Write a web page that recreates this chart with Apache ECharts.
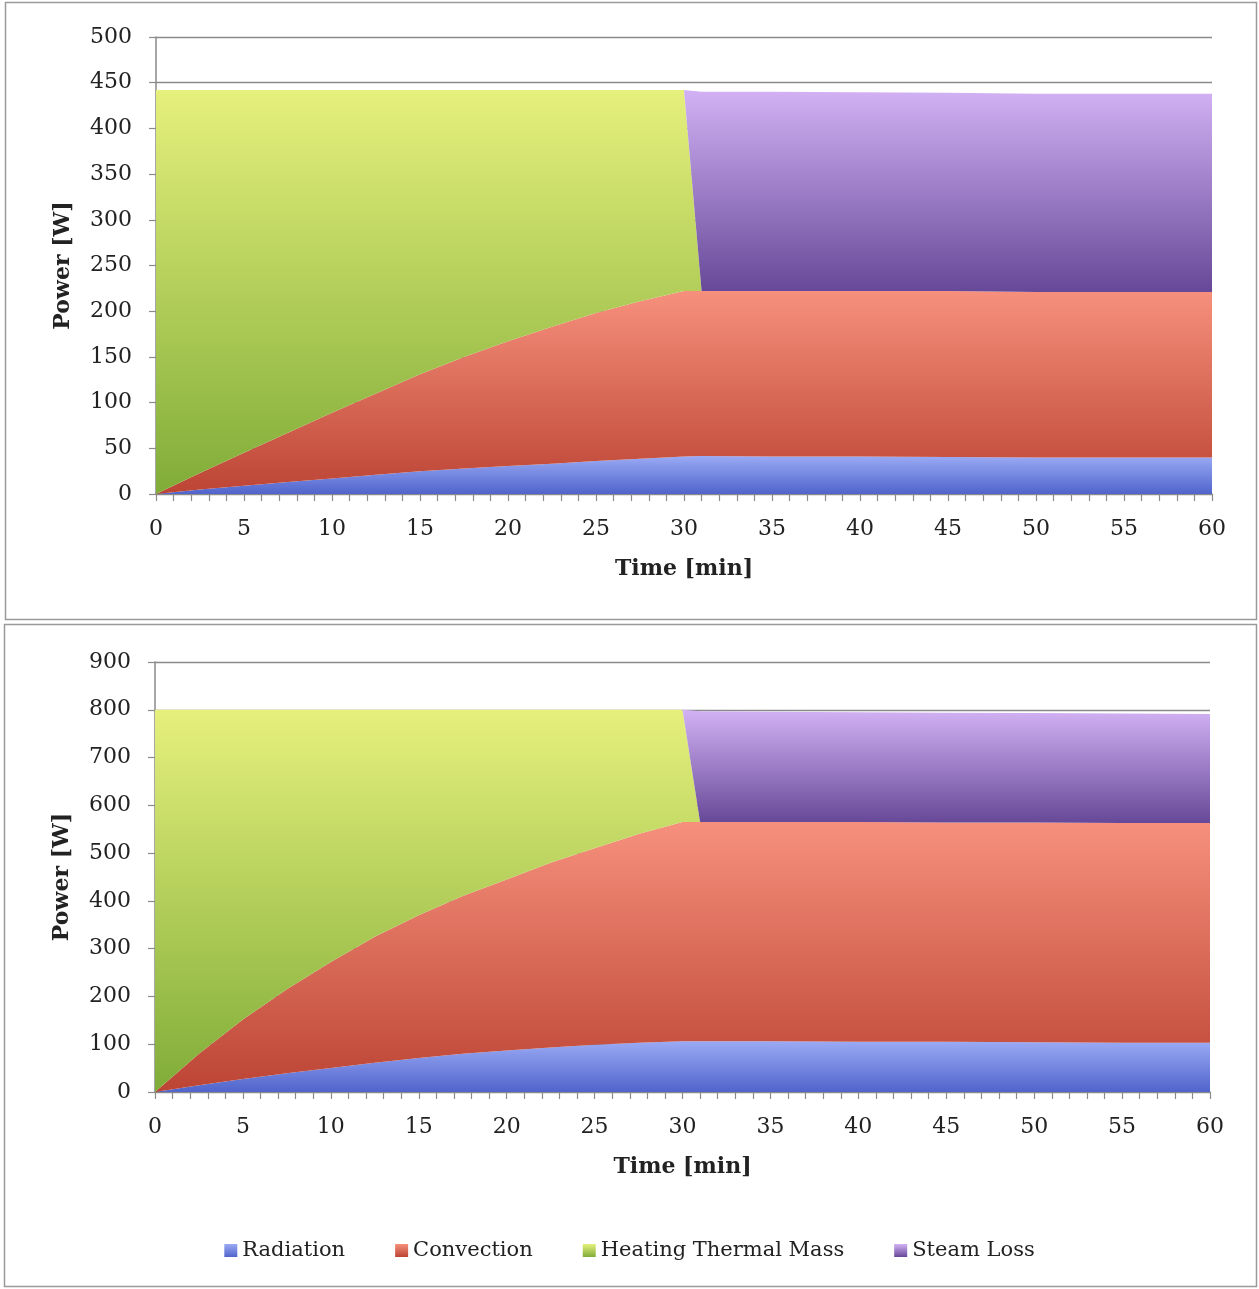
<!DOCTYPE html>
<html><head><meta charset="utf-8">
<script src="https://cdn.jsdelivr.net/npm/echarts@6/dist/echarts.min.js"></script>
<style>html,body{margin:0;padding:0;background:#fff}#c{width:1259px;height:1289px}</style>
</head><body><div id="c"></div>
<script>
// ---- data ----
const seriesNames = ['Radiation', 'Convection', 'Heating Thermal Mass', 'Steam Loss'];
const timeMin = [0, 2.5, 5, 7.5, 10, 12.5, 15, 17.5, 20, 22.5, 25, 27.5, 30, 31, 35, 40, 45, 50, 55, 60];
const xTickLabels = [0, 5, 10, 15, 20, 25, 30, 35, 40, 45, 50, 55, 60];
const yTickLabelsTop = [0, 50, 100, 150, 200, 250, 300, 350, 400, 450, 500];
const yTickLabelsBottom = [0, 100, 200, 300, 400, 500, 600, 700, 800, 900];

// top chart (W)
const radiationTop  = [0, 5, 9, 13, 17, 21, 25, 28, 30.5, 33, 36, 38.5, 41, 41.5, 41, 41, 40.5, 40, 40, 40];
const convectionTop = [0, 18, 36, 54, 72, 89, 106, 122, 136.5, 150, 162, 172.5, 181, 180.5, 181, 181, 181.5, 181, 181, 181];
const heatingTop    = [442, 419, 397, 375, 353, 332, 311, 292, 275, 259, 244, 231, 220, 0, 0, 0, 0, 0, 0, 0];
const steamTop      = [0, 0, 0, 0, 0, 0, 0, 0, 0, 0, 0, 0, 0, 218, 218, 217.5, 217, 217, 217, 217];

// bottom chart (W)
const radiationBot  = [0, 14, 27, 39, 50, 61, 71, 80, 87, 93, 99, 103, 106, 106, 106, 105, 105, 104, 103, 103];
const convectionBot = [0, 66, 125, 176, 222, 264, 299, 330, 358, 387, 411, 437, 459, 459, 459, 460, 459, 460, 460, 460];
const heatingBot    = [800, 720, 648, 585, 528, 475, 430, 390, 355, 320, 290, 260, 235, 0, 0, 0, 0, 0, 0, 0];
const steamBot      = [0, 0, 0, 0, 0, 0, 0, 0, 0, 0, 0, 0, 0, 232, 231, 230, 230, 229, 229, 228];

// ---- styling ----
const palette = [
  ['#9aaaf4', '#5064cc'],
  ['#f6907c', '#bc4434'],
  ['#e6f07c', '#80ac38'],
  ['#d2b2f4', '#664898']
];
function grad(c) {
  return new echarts.graphic.LinearGradient(0, 0, 0, 1, [{offset: 0, color: c[0]}, {offset: 1, color: c[1]}]);
}
const FONT = 'DejaVu Serif';
const TXT = '#222';
const AX = '#8a8a8a';

function mk(name, vals, gi, ci) {
  return {
    name: name, type: 'line', xAxisIndex: gi, yAxisIndex: gi, stack: 'g' + gi,
    // value first so that the stacked dimension is the power (y) value
    data: timeMin.map((t, i) => [vals[i], t]),
    encode: {x: 1, y: 0},
    symbol: 'none', showSymbol: false,
    lineStyle: {width: 0, opacity: 0},
    areaStyle: {color: grad(palette[ci]), opacity: 1},
    itemStyle: {color: grad(palette[ci])},
    emphasis: {disabled: true}, silent: true, z: 2
  };
}
function xAx(gi) {
  return {
    type: 'value', gridIndex: gi, min: 0, max: 60, interval: 5,
    axisLine: {show: true, lineStyle: {color: AX, width: 1.5}},
    axisTick: {show: true, length: 7, lineStyle: {color: AX, width: 1.2}},
    minorTick: {show: true, splitNumber: 5, length: 7, lineStyle: {color: AX, width: 1.2}},
    splitLine: {show: false},
    axisLabel: {fontFamily: FONT, fontSize: 22, color: TXT, margin: 24,
      formatter: v => xTickLabels.indexOf(v) >= 0 ? String(v) : ''},
    name: 'Time [min]', nameLocation: 'middle', nameGap: 64,
    nameTextStyle: {fontFamily: FONT, fontWeight: 'bold', fontSize: 22, color: TXT}
  };
}
function yAx(gi, ticks) {
  return {
    type: 'value', gridIndex: gi, min: ticks[0], max: ticks[ticks.length - 1], interval: ticks[1] - ticks[0],
    axisLine: {show: true, lineStyle: {color: AX, width: 1.5}},
    axisTick: {show: true, length: 7, lineStyle: {color: AX, width: 1.2}},
    splitLine: {show: true, lineStyle: {color: AX, width: 1.4}},
    axisLabel: {fontFamily: FONT, fontSize: 22, color: TXT, margin: 24},
    name: 'Power [W]', nameLocation: 'middle', nameGap: 82, nameRotate: 90,
    nameTextStyle: {fontFamily: FONT, fontWeight: 'bold', fontSize: 22, color: TXT}
  };
}

const chart = echarts.init(document.getElementById('c'), null, {renderer: 'canvas'});
chart.setOption({
  animation: false,
  backgroundColor: '#fff',
  grid: [
    {left: 156, top: 37, width: 1056, height: 457},
    {left: 155, top: 662, width: 1055, height: 430}
  ],
  xAxis: [xAx(0), xAx(1)],
  yAxis: [yAx(0, yTickLabelsTop), yAx(1, yTickLabelsBottom)],
  legend: {
    top: 1235, left: 'center', itemWidth: 13, itemHeight: 13, itemGap: 50, itemStyle: {borderWidth: 0},
    selectedMode: false,
    textStyle: {fontFamily: FONT, fontSize: 21, color: TXT},
    data: seriesNames.map((n, i) => ({name: n, icon: 'rect', itemStyle: {color: grad(palette[i])}}))
  },
  graphic: [
    {type: 'rect', silent: true, shape: {x: 5.5, y: 2.5, width: 1251, height: 617},
     style: {fill: 'none', stroke: '#9a9a9a', lineWidth: 1.5}},
    {type: 'rect', silent: true, shape: {x: 4.5, y: 624.5, width: 1252, height: 662},
     style: {fill: 'none', stroke: '#9a9a9a', lineWidth: 1.5}}
  ],
  series: [
    mk(seriesNames[0], radiationTop, 0, 0),
    mk(seriesNames[1], convectionTop, 0, 1),
    mk(seriesNames[2], heatingTop, 0, 2),
    mk(seriesNames[3], steamTop, 0, 3),
    mk(seriesNames[0], radiationBot, 1, 0),
    mk(seriesNames[1], convectionBot, 1, 1),
    mk(seriesNames[2], heatingBot, 1, 2),
    mk(seriesNames[3], steamBot, 1, 3)
  ]
});
</script></body></html>
